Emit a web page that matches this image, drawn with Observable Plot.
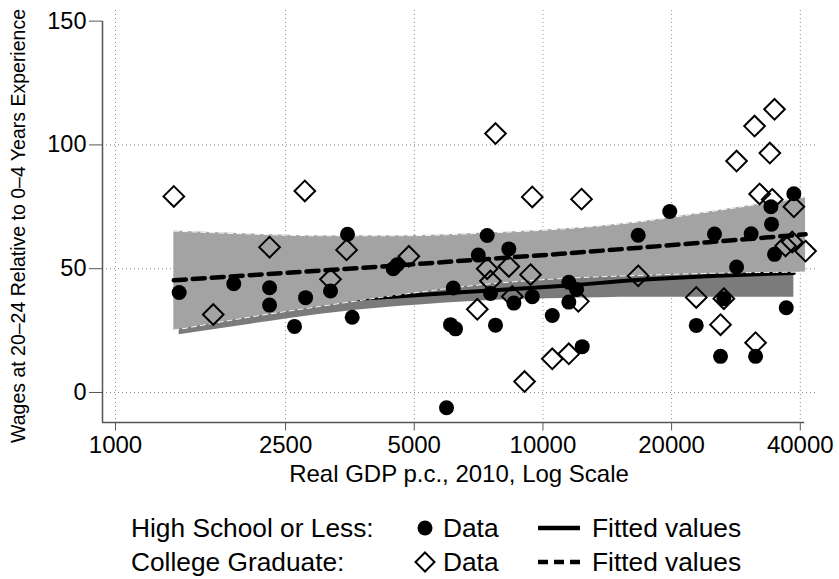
<!DOCTYPE html>
<html>
<head>
<meta charset="utf-8">
<script src="https://cdn.jsdelivr.net/npm/d3@7"></script>
<script src="https://cdn.jsdelivr.net/npm/@observablehq/plot@0.6"></script>
<style>
  body { margin: 0; background: white; }
  #wrap { position: relative; width: 839px; height: 579px; background: white; overflow: hidden;
          font-family: "Liberation Sans", Arial, Helvetica, sans-serif; color: black; }
  #chart { position: absolute; left: 0; top: 0; }
  .abs { position: absolute; white-space: nowrap; line-height: 26px; font-size: 26.3px; }
  #ytitle { position: absolute; left: 18px; top: 226px; transform: translate(-50%, -50%) rotate(-90deg);
            white-space: nowrap; font-size: 19.5px; }
</style>
</head>
<body>
<div id="wrap">
  <div id="chart"></div>
  <div id="ytitle"></div>
  <div id="legend"></div>
</div>
<script>
// ---- Data: High School or Less (circles) ----
const hsX = [1409, 1891, 2293, 2293, 2623, 2784, 3184, 3490, 3579, 4464, 4560, 6168, 6079, 6245, 5949,
             7405, 7059, 8322, 7539, 8550, 7745, 9441, 10515, 11497, 11985, 11497, 12356, 16706, 19800,
             25200, 22840, 26030, 26500, 30700, 28380, 31440, 34150, 34260, 34820, 38640, 37090];
const hsY = [40.4, 43.9, 42.3, 35.3, 26.7, 38.3, 41.0, 63.9, 30.4, 50.0, 51.6, 42.2, 27.4, 25.7, -6.2,
             63.4, 55.5, 58.0, 40.0, 36.1, 27.2, 38.7, 31.1, 44.5, 41.6, 36.5, 18.5, 63.5, 73.1,
             64.0, 27.1, 14.6, 37.9, 64.1, 50.7, 14.6, 75.0, 68.0, 55.8, 80.3, 34.2];

// ---- Data: College Graduate (diamonds) ----
const colX = [1369, 2773, 2293, 3472, 4857, 3184, 1693, 7745, 9441, 12310, 7405, 7539, 8322, 9354, 8477,
              7022, 12100, 9057, 10515, 11497, 16706, 22840, 26030, 31440, 28380, 31270, 34820, 33950,
              32130, 34390, 38640, 36950, 38300, 41150, 26500];
const colY = [79.2, 81.4, 58.7, 57.6, 55.0, 45.7, 31.5, 104.6, 79.0, 78.1, 50.0, 45.0, 50.9, 47.6, 38.8,
              33.6, 36.8, 4.4, 13.6, 15.6, 47.1, 38.4, 27.4, 20.1, 93.5, 107.6, 114.4, 96.7,
              80.2, 78.0, 75.0, 59.2, 60.8, 57.1, 37.9];

// ---- Fitted values and confidence bands ----
const hsFitX  = [1409, 2070, 3020, 4640, 7540, 11000, 16900, 25600, 38640];
const hsFit   = [33.5, 35.2, 37.0, 38.9, 41.2, 43.0, 45.5, 47.2, 48.3];
const hsLo    = [23.3, 27.6, 31.6, 34.8, 37.2, 38.0, 38.5, 38.5, 38.5];
const hsHi    = [44.0, 42.5, 42.0, 43.0, 45.2, 48.0, 52.5, 56.0, 58.0];

const colFitX = [1369, 2070, 3020, 4640, 7540, 11000, 16900, 25600, 41160];
const colFit  = [45.3, 47.4, 49.2, 51.4, 54.0, 56.0, 58.5, 61.0, 63.9];
const colLo   = [25.1, 30.5, 34.8, 39.5, 43.9, 46.0, 47.3, 48.2, 48.6];
const colHi   = [65.2, 64.0, 63.3, 63.3, 64.5, 66.0, 69.0, 73.5, 79.0];

// ---- Axes ----
const xTicks = [1000, 2500, 5000, 10000, 20000, 40000];
const yTicks = [0, 50, 100, 150];
const yGrid  = [0, 50, 100];
const xDomain = [932.3, 43420];
const yDomain = [-12.13, 154.3];
const xAxisEnd = 40950;
const yAxisEnd = 150;

const xTitle = "Real GDP p.c., 2010, Log Scale";
const yTitle = "Wages at 20\u201324 Relative to 0\u20134 Years Experience";

const legendRows = [
  {group: "High School or Less:", marker: "circle", data: "Data", fit: "Fitted values", dash: false},
  {group: "College Graduate:", marker: "diamond", data: "Data", fit: "Fitted values", dash: true}
];

// ---- Build tables ----
const hsPts = hsX.map((x, i) => ({x, y: hsY[i]}));
const colPts = colX.map((x, i) => ({x, y: colY[i]}));
const hsBand = hsFitX.map((x, i) => ({x, fit: hsFit[i], lo: hsLo[i], hi: hsHi[i]}));
const colBand = colFitX.map((x, i) => ({x, fit: colFit[i], lo: colLo[i], hi: colHi[i]}));

const curve = "monotone-x";
const axisColor = "#555";

const chart = Plot.plot({
  width: 839,
  height: 495,
  marginLeft: 102,
  marginRight: 24,
  marginTop: 10,
  marginBottom: 73,
  style: {fontFamily: "'Liberation Sans', Arial, Helvetica, sans-serif", background: "white", color: "black", overflow: "visible"},
  x: {type: "log", domain: xDomain},
  y: {domain: yDomain},
  marks: [
    Plot.gridX(xTicks, {stroke: "#8a8a8a", strokeOpacity: 1, strokeWidth: 1, strokeDasharray: "1,3"}),
    Plot.gridY(yGrid, {stroke: "#8a8a8a", strokeOpacity: 1, strokeWidth: 1, strokeDasharray: "1,3"}),
    Plot.areaY(hsBand, {x: "x", y1: "lo", y2: "hi", fill: "#7b7b7b", curve}),
    Plot.line(hsBand, {x: "x", y: "fit", stroke: "black", strokeWidth: 4, curve}),
    Plot.areaY(colBand, {x: "x", y1: "lo", y2: "hi", fill: "#a3a3a3", curve}),
    Plot.line(colBand, {x: "x", y: "lo", stroke: "white", strokeWidth: 1, strokeDasharray: "5,4", curve}),
    Plot.line(colBand, {x: "x", y: "hi", stroke: "white", strokeWidth: 1, strokeDasharray: "5,4", curve}),
    Plot.line(colBand, {x: "x", y: "fit", stroke: "black", strokeWidth: 4.5, strokeDasharray: "12,7", curve}),
    Plot.dot(hsPts, {x: "x", y: "y", r: 7.5, fill: "black"}),
    Plot.dot(colPts, {x: "x", y: "y", symbol: "diamond2", r: 9.3, stroke: "black", strokeWidth: 2, fill: "none"}),
    Plot.ruleX([xDomain[0]], {y1: yDomain[0], y2: yAxisEnd, stroke: axisColor, strokeWidth: 1.5}),
    Plot.ruleY([yDomain[0]], {x1: xDomain[0], x2: xAxisEnd, stroke: axisColor, strokeWidth: 1.5}),
    Plot.axisX(xTicks, {tickSize: 8.5, tickPadding: 5, tickFormat: d3.format("d"), fontSize: 24, stroke: axisColor, label: null}),
    Plot.axisY(yTicks, {tickSize: 13, tickPadding: 3, fontSize: 23.5, stroke: axisColor, label: null}),
    Plot.text([xTitle], {frameAnchor: "bottom", lineAnchor: "middle", dy: 52, fontSize: 24, fill: "black"})
  ]
});
document.getElementById("chart").appendChild(chart);
document.getElementById("ytitle").textContent = yTitle;

// ---- Legend (HTML) ----
const legend = document.getElementById("legend");
legendRows.forEach((row, i) => {
  const top = 515 + i * 34;
  const mk = (left, text) => {
    const d = document.createElement("div");
    d.className = "abs";
    d.style.left = left + "px";
    d.style.top = top + "px";
    d.textContent = text;
    legend.appendChild(d);
  };
  mk(131, row.group);
  mk(443, row.data);
  mk(592, row.fit);
  const ns = "http://www.w3.org/2000/svg";
  const svg = document.createElementNS(ns, "svg");
  svg.setAttribute("width", 180);
  svg.setAttribute("height", 30);
  svg.style.position = "absolute";
  svg.style.left = "410px";
  svg.style.top = (top - 2) + "px";
  if (row.marker === "circle") {
    const c = document.createElementNS(ns, "circle");
    c.setAttribute("cx", 15); c.setAttribute("cy", 15); c.setAttribute("r", 7.5);
    c.setAttribute("fill", "black");
    svg.appendChild(c);
  } else {
    const p = document.createElementNS(ns, "path");
    p.setAttribute("d", "M15,5.5L24.5,15L15,24.5L5.5,15Z");
    p.setAttribute("fill", "none"); p.setAttribute("stroke", "black"); p.setAttribute("stroke-width", 2);
    svg.appendChild(p);
  }
  const l = document.createElementNS(ns, "line");
  l.setAttribute("x1", 128); l.setAttribute("x2", 170);
  l.setAttribute("y1", 15); l.setAttribute("y2", 15);
  l.setAttribute("stroke", "black"); l.setAttribute("stroke-width", 4.5);
  if (row.dash) l.setAttribute("stroke-dasharray", "10,6");
  svg.appendChild(l);
  legend.appendChild(svg);
});
</script>
</body>
</html>
